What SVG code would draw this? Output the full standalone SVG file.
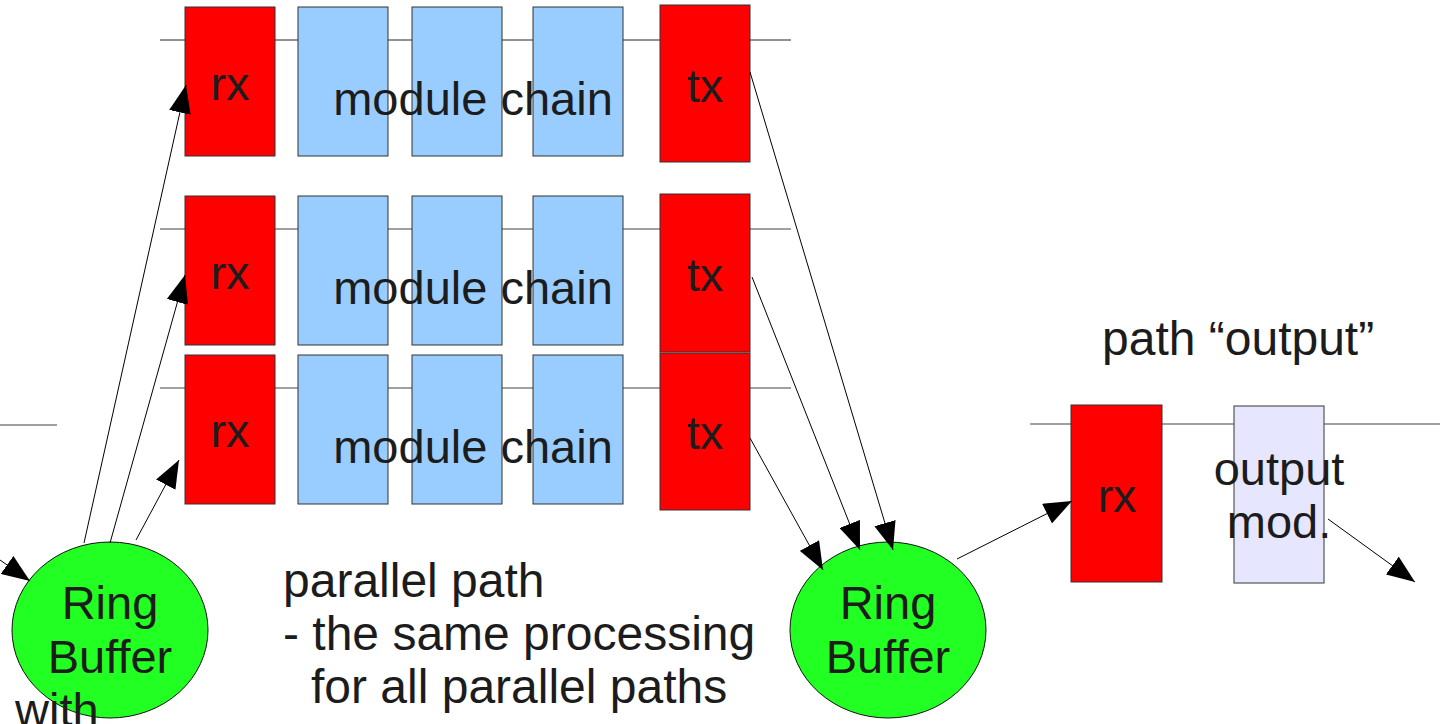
<svg xmlns="http://www.w3.org/2000/svg" width="1441" height="724" viewBox="0 0 1441 724">
<style>
text{font-family:"Liberation Sans",Arial,sans-serif;fill:#1c1c1c;font-size:47px}
.c{text-anchor:middle}
.red{fill:#ff0000;stroke:#333;stroke-width:1}
.blue{fill:#99ccff;stroke:#333;stroke-width:1}
.lav{fill:#e6e6ff;stroke:#555;stroke-width:1.2}
.rb{fill:#22ff22;stroke:#111;stroke-width:1}
.bus{stroke:#222;stroke-width:1;fill:none}
.busg{stroke:#808080;stroke-width:1.5;fill:none}
.conn line{stroke:#000;stroke-width:1;marker-end:url(#ah)}
.big{font-size:48px}
</style>
<defs>
<marker id="ah" markerUnits="userSpaceOnUse" markerWidth="28" markerHeight="22" refX="28" refY="11" orient="auto">
<path d="M0,0 L28,11 L0,22 z" fill="#000"/>
</marker>
</defs>
<rect width="1441" height="724" fill="#fff"/>
<g id="buses">
<line class="bus" x1="160" y1="40" x2="791" y2="40"/>
<line class="busg" x1="160" y1="229" x2="791" y2="229"/>
<line class="busg" x1="160" y1="388" x2="791" y2="388"/>
<line class="busg" x1="0" y1="425" x2="57" y2="425"/>
<line class="busg" x1="1030" y1="424" x2="1440" y2="424"/>
</g>
<g id="path1">
<rect class="red" x="185" y="7" width="90" height="149"/>
<rect class="blue" x="298" y="7" width="90" height="149"/>
<rect class="blue" x="412" y="7" width="90" height="149"/>
<rect class="blue" x="533" y="7" width="90" height="149"/>
<rect class="red" x="660" y="5" width="90" height="157"/>
<text class="c" x="230" y="100">rx</text>
<text class="c" x="473" y="115">module chain</text>
<text class="c" x="705" y="102">tx</text>
</g>
<g id="path2">
<rect class="red" x="185" y="196" width="90" height="149"/>
<rect class="blue" x="298" y="196" width="90" height="149"/>
<rect class="blue" x="412" y="196" width="90" height="149"/>
<rect class="blue" x="533" y="196" width="90" height="149"/>
<rect class="red" x="660" y="194" width="90" height="158"/>
<text class="c" x="230" y="289">rx</text>
<text class="c" x="473" y="304">module chain</text>
<text class="c" x="705" y="291">tx</text>
</g>
<g id="path3">
<rect class="red" x="185" y="355" width="90" height="149"/>
<rect class="blue" x="298" y="355" width="90" height="149"/>
<rect class="blue" x="412" y="355" width="90" height="149"/>
<rect class="blue" x="533" y="355" width="90" height="149"/>
<rect class="red" x="660" y="353" width="90" height="157"/>
<text class="c" x="230" y="447">rx</text>
<text class="c" x="473" y="463">module chain</text>
<text class="c" x="705" y="449">tx</text>
</g>
<g id="ringbuffer-in">
<ellipse class="rb" cx="110" cy="630" rx="98" ry="88"/>
<text class="c" x="110" y="619">Ring</text>
<text class="c" x="110" y="673">Buffer</text>
<text x="15" y="726">with</text>
</g>
<g id="ringbuffer-out">
<ellipse class="rb" cx="888" cy="630" rx="98" ry="88"/>
<text class="c" x="888" y="619">Ring</text>
<text class="c" x="888" y="673">Buffer</text>
</g>
<g id="path-output">
<rect class="red" x="1071" y="405" width="91" height="177"/>
<rect class="lav" x="1234" y="406" width="90" height="177"/>
<text class="c" x="1117" y="512">rx</text>
<text class="c" x="1279" y="485">output</text>
<text class="c" x="1279" y="538">mod.</text>
<text class="big" x="1102" y="355">path “output”</text>
</g>
<g id="note">
<text class="big" x="283" y="597">parallel path</text>
<text class="big" x="283" y="650">- the same processing</text>
<text class="big" x="311" y="703">for all parallel paths</text>
</g>
<g id="connectors" class="conn">
<line x1="0" y1="560" x2="30" y2="581"/>
<line x1="84" y1="543" x2="186" y2="85"/>
<line x1="110" y1="543" x2="185" y2="275"/>
<line x1="136" y1="540" x2="179" y2="460"/>
<line x1="750" y1="72" x2="893" y2="550"/>
<line x1="752" y1="277" x2="860" y2="550"/>
<line x1="750" y1="438" x2="823" y2="570"/>
<line x1="957" y1="559" x2="1072" y2="501"/>
<line x1="1328" y1="519" x2="1415" y2="582"/>
</g>
</svg>
